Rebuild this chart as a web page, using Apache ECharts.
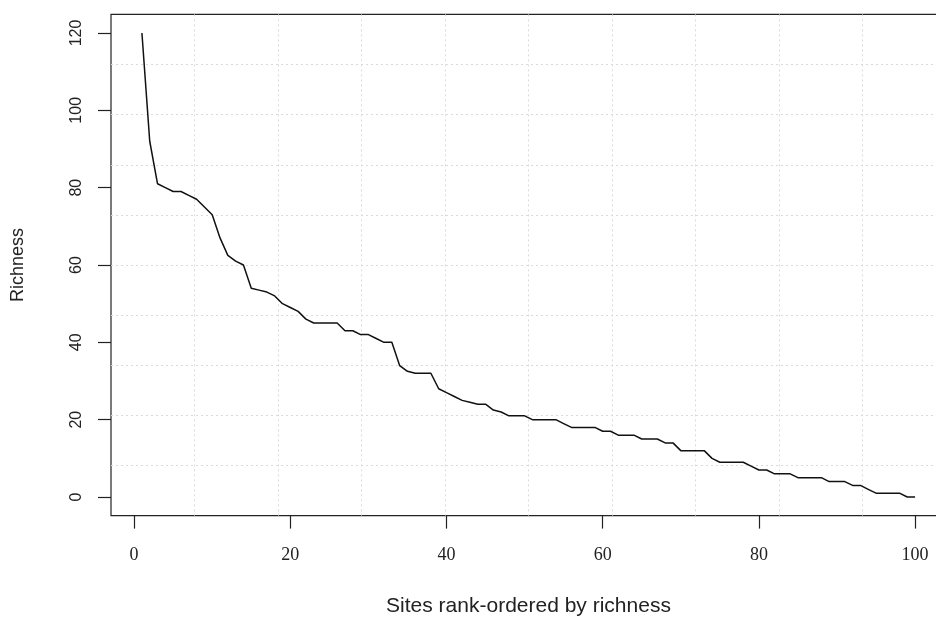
<!DOCTYPE html>
<html>
<head>
<meta charset="utf-8">
<script src="https://cdn.jsdelivr.net/npm/echarts@6/dist/echarts.min.js"></script>
<style>
html,body{margin:0;padding:0;background:#fff;}
#chart{width:936px;height:619px;}
</style>
</head>
<body>
<div id="chart"></div>
<script>
// Site ranks (1..100)
const ranks = [];
for (let i = 1; i <= 100; i++) ranks.push(i);

// Richness values, in rank order
const richness = [
  120, 92, 81, 80, 79, 79, 78, 77, 75, 73,
  67, 62.5, 61, 60, 54, 53.5, 53, 52, 50, 49,
  48, 46, 45, 45, 45, 45, 43, 43, 42, 42,
  41, 40, 40, 34, 32.5, 32, 32, 32, 28, 27,
  26, 25, 24.5, 24, 24, 22.5, 22, 21, 21, 21,
  20, 20, 20, 20, 19, 18, 18, 18, 18, 17,
  17, 16, 16, 16, 15, 15, 15, 14, 14, 12,
  12, 12, 12, 10, 9, 9, 9, 9, 8, 7,
  7, 6, 6, 6, 5, 5, 5, 5, 4, 4,
  4, 3, 3, 2, 1, 1, 1, 1, 0, 0
];

const xTicks = [0, 20, 40, 60, 80, 100];
const yTicks = [0, 20, 40, 60, 80, 100, 120];

const xTitle = 'Sites rank-ordered by richness';
const yTitle = 'Richness';

const chart = echarts.init(document.getElementById('chart'), null, {renderer: 'canvas'});

const gridLineStyle = {color: '#dadada', type: [2, 3], width: 1};

const option = {
  animation: false,
  backgroundColor: '#ffffff',
  grid: {
    left: 111, top: 14.4, width: 835, height: 501.2,
    outerBoundsMode: 'none', containLabel: false,
    show: true, borderColor: '#222', borderWidth: 1.2, backgroundColor: 'transparent'
  },
  xAxis: [
    {
      type: 'value', min: -2.96, max: 103.96, position: 'bottom',
      axisLine: {show: false, onZero: false},
      axisTick: {show: true, inside: false, length: 13, customValues: xTicks, lineStyle: {color: '#222', width: 1.2}},
      axisLabel: {customValues: xTicks, fontFamily: 'Liberation Serif', fontSize: 18, color: '#222', margin: 31},
      splitLine: {show: false},
      name: xTitle, nameLocation: 'middle', nameGap: 80,
      nameTextStyle: {fontFamily: 'Liberation Sans', fontSize: 21, color: '#222'}
    },
    {
      type: 'value', min: 0, max: 10, interval: 1, position: 'top',
      axisLine: {show: false, onZero: false}, axisTick: {show: false}, axisLabel: {show: false},
      splitLine: {show: true, showMinLine: false, showMaxLine: false, lineStyle: gridLineStyle}
    }
  ],
  yAxis: [
    {
      type: 'value', min: -4.8, max: 124.8, position: 'left',
      axisLine: {show: false, onZero: false},
      axisTick: {show: true, inside: false, length: 13, customValues: yTicks, lineStyle: {color: '#222', width: 1.2}},
      axisLabel: {customValues: yTicks, rotate: 90, fontFamily: 'Liberation Sans', fontSize: 16, color: '#222', margin: 26},
      splitLine: {show: false},
      name: yTitle, nameLocation: 'middle', nameGap: 84, nameRotate: 90,
      nameTextStyle: {fontFamily: 'Liberation Sans', fontSize: 18, color: '#222'}
    },
    {
      type: 'value', min: 0, max: 10, interval: 1, position: 'right',
      axisLine: {show: false, onZero: false}, axisTick: {show: false}, axisLabel: {show: false},
      splitLine: {show: true, showMinLine: false, showMaxLine: false, lineStyle: gridLineStyle}
    }
  ],
  series: [
    {
      type: 'line',
      xAxisIndex: 0, yAxisIndex: 0,
      data: ranks.map((r, i) => [r, richness[i]]),
      showSymbol: false,
      lineStyle: {color: '#111', width: 1.5},
      z: 5
    }
  ]
};
chart.setOption(option);
</script>
</body>
</html>
